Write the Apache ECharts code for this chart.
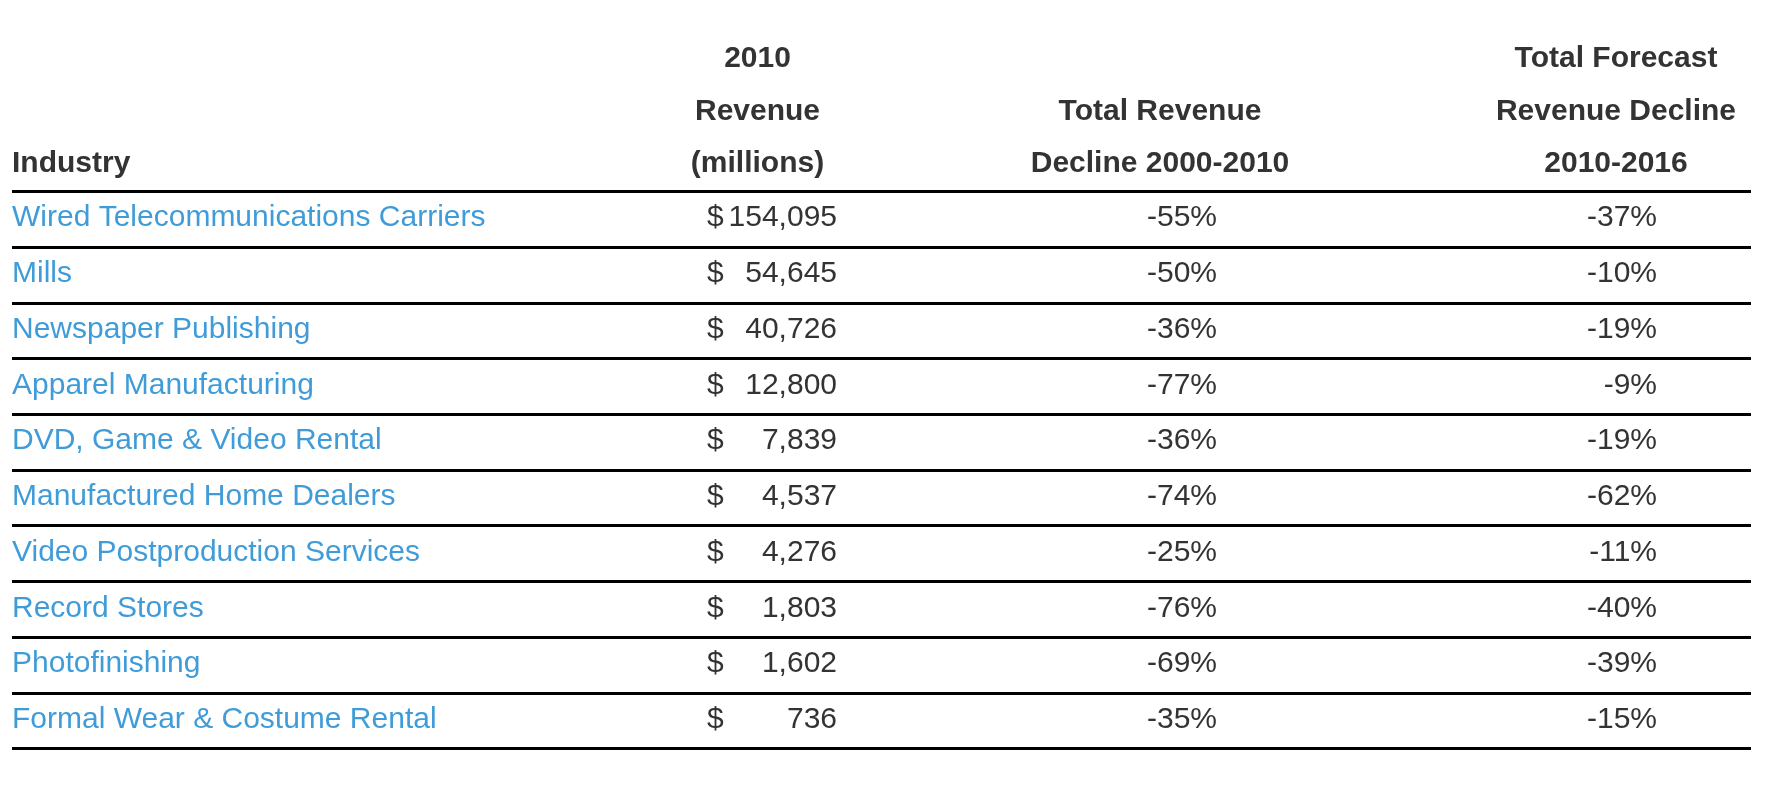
<!DOCTYPE html>
<html><head><meta charset="utf-8">
<script src="https://cdn.jsdelivr.net/npm/echarts@6/dist/echarts.min.js"></script>
<style>html,body{margin:0;padding:0;background:#fff}#c{width:1783px;height:801px}</style>
</head><body><div id="c"></div>
<script>
const industries = ['Wired Telecommunications Carriers','Mills','Newspaper Publishing','Apparel Manufacturing','DVD, Game & Video Rental','Manufactured Home Dealers','Video Postproduction Services','Record Stores','Photofinishing','Formal Wear & Costume Rental'];
const revenue2010 = [154095, 54645, 40726, 12800, 7839, 4537, 4276, 1803, 1602, 736];
const decline2000_2010 = [-55, -50, -36, -77, -36, -74, -25, -76, -69, -35];
const forecast2010_2016 = [-37, -10, -19, -9, -19, -62, -11, -40, -39, -15];
const headerIndustry = ['Industry'];
const headerRevenue = ['2010', 'Revenue', '(millions)'];
const headerDecline = ['Total Revenue', 'Decline 2000-2010'];
const headerForecast = ['Total Forecast', 'Revenue Decline', '2010-2016'];

const FONT = 'Liberation Sans';
const FS = 30;
const TEXT = '#333333';
const LINK = '#3f9cd8';
const COL = {name: 12, dollar: 707, revRight: 837, revCenter: 757.5, decRight: 1217, decCenter: 1160, fcRight: 1657, fcCenter: 1616};
const HEAD_Y = [59, 111.5, 163.5];

const chart = echarts.init(document.getElementById('c'), null, {renderer: 'canvas'});

function txt(x, y, s, align, color, weight) {
  return {type: 'text', x: x, y: y, style: {text: s, fontSize: FS, fontFamily: FONT, fontWeight: weight || 'normal', fill: color, align: align, verticalAlign: 'middle'}};
}

const graphics = [];
function addHeader(lines, x, align) {
  const off = HEAD_Y.length - lines.length;
  lines.forEach((s, k) => {
    graphics.push(txt(x, HEAD_Y[off + k], s, align, TEXT, 'bold'));
  });
}
addHeader(headerIndustry, COL.name, 'left');
addHeader(headerRevenue, COL.revCenter, 'center');
addHeader(headerDecline, COL.decCenter, 'center');
addHeader(headerForecast, COL.fcCenter, 'center');

chart.setOption({
  animation: false,
  backgroundColor: '#ffffff',
  textStyle: {fontFamily: FONT},
  grid: {left: 12, right: 32, top: 191.3, bottom: 52.3, containLabel: false},
  xAxis: {type: 'value', min: 12, max: 1751, show: false},
  yAxis: {
    type: 'category', data: industries, inverse: true, boundaryGap: true,
    axisLine: {show: false}, axisTick: {show: false}, axisLabel: {show: false},
    splitLine: {show: true, interval: 0, lineStyle: {color: '#000000', width: 3}}
  },
  graphic: graphics,
  series: [{
    type: 'custom',
    data: industries.map((n, i) => [i]),
    encode: {y: 0},
    renderItem: function (params, api) {
      const i = api.value(0);
      const yy = api.coord([COL.name, i])[1] - 1;
      const cx = (x) => api.coord([x, i])[0];
      return {type: 'group', children: [
        txt(cx(COL.name), yy, industries[i], 'left', LINK),
        txt(cx(COL.dollar), yy, '$', 'left', TEXT),
        txt(cx(COL.revRight), yy, revenue2010[i].toLocaleString('en-US'), 'right', TEXT),
        txt(cx(COL.decRight), yy, decline2000_2010[i] + '%', 'right', TEXT),
        txt(cx(COL.fcRight), yy, forecast2010_2016[i] + '%', 'right', TEXT)
      ]};
    }
  }]
});
</script></body></html>
